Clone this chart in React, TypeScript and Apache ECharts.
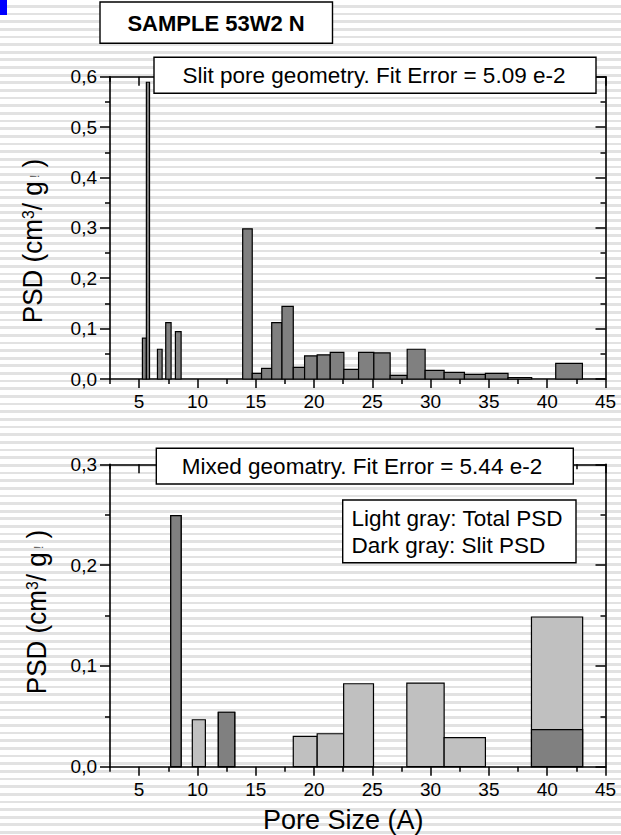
import React, { useEffect, useRef } from "react";
import * as echarts from "echarts";

// ---- Data ----
// Top chart: slit pore geometry PSD, bins [start, end] in Å and value (cm3/g)
const slitBinStart = [5.28, 5.62, 6.57, 7.28, 8.11, 13.88, 14.7, 15.5, 16.37, 17.25, 18.22, 19.19, 20.27, 21.39, 22.56, 23.82, 25.13, 26.53, 27.99, 29.53, 31.16, 32.9, 34.7, 36.64, 40.73];
const slitBinEnd = [5.62, 5.89, 6.97, 7.74, 8.6, 14.7, 15.5, 16.37, 17.25, 18.22, 19.19, 20.27, 21.39, 22.56, 23.82, 25.13, 26.53, 27.99, 29.53, 31.16, 32.9, 34.7, 36.64, 38.67, 43.02];
const slitValues = [0.081, 0.589, 0.059, 0.112, 0.094, 0.298, 0.011, 0.021, 0.112, 0.144, 0.023, 0.046, 0.048, 0.053, 0.019, 0.053, 0.052, 0.007, 0.059, 0.017, 0.013, 0.009, 0.011, 0.003, 0.031];

// Bottom chart: mixed geometry
const mixBinStart = [7.71, 9.56, 11.79, 18.22, 20.27, 22.54, 27.96, 31.16, 38.65];
const mixBinEnd = [8.6, 10.68, 13.2, 20.27, 22.54, 25.1, 31.16, 34.7, 43.04];
const mixTotal = [0.249, 0.0466, 0.054, 0.03, 0.0327, 0.0823, 0.083, 0.0288, 0.1485];
const mixSlit = [0.249, 0, 0.054, 0, 0, 0, 0, 0, 0.0367];

const xMajorTicks = [5, 10, 15, 20, 25, 30, 35, 40, 45];
const xMinorTicks = [2.5, 7.5, 12.5, 17.5, 22.5, 27.5, 32.5, 37.5, 42.5];

const FONT = 'Arial, "Liberation Sans", sans-serif';
const DARK = "#808080";
const LIGHT = "#c0c0c0";

function rectItem(fill: string) {
  return (params: any, api: any) => {
    const x0 = api.value(0);
    const x1 = api.value(1);
    const y = api.value(2);
    if (!(y > 0)) return null;
    const p0 = api.coord([x0, y]);
    const p1 = api.coord([x1, 0]);
    return {
      type: "rect",
      shape: { x: p0[0], y: p0[1], width: p1[0] - p0[0], height: p1[1] - p0[1] },
      style: { fill, stroke: "#000", lineWidth: 1.2 },
    };
  };
}

function xAxes(gridIndex: number) {
  const line = { lineStyle: { color: "#000", width: 1.6 } };
  return [
    {
      gridIndex, type: "value", position: "bottom", min: 2.5, max: 45,
      axisLine: { show: true, onZero: false, ...line },
      axisTick: { show: true, customValues: xMajorTicks, length: 9, inside: false, lineStyle: { color: "#000", width: 1.5 } },
      axisLabel: { show: true, customValues: xMajorTicks, color: "#000", fontSize: 19, fontFamily: FONT, margin: 13 },
      splitLine: { show: false },
    },
    {
      gridIndex, type: "value", position: "bottom", min: 2.5, max: 45,
      axisLine: { show: false, onZero: false },
      axisTick: { show: true, customValues: xMinorTicks, length: 5, inside: false, lineStyle: { color: "#000", width: 1.5 } },
      axisLabel: { show: false },
      splitLine: { show: false },
    },
    {
      gridIndex, type: "value", position: "top", min: 2.5, max: 45,
      axisLine: { show: true, onZero: false, ...line },
      axisTick: { show: true, customValues: xMajorTicks, length: 9, inside: true, lineStyle: { color: "#000", width: 1.5 } },
      axisLabel: { show: false },
      splitLine: { show: false },
    },
    {
      gridIndex, type: "value", position: "top", min: 2.5, max: 45,
      axisLine: { show: false, onZero: false },
      axisTick: { show: true, customValues: xMinorTicks, length: 5, inside: true, lineStyle: { color: "#000", width: 1.5 } },
      axisLabel: { show: false },
      splitLine: { show: false },
    },
  ];
}

function yAxes(gridIndex: number, max: number) {
  const common = {
    gridIndex, type: "value", min: 0, max, interval: 0.1,
    splitLine: { show: false },
    minorSplitLine: { show: false },
  };
  return [
    {
      ...common, position: "left",
      axisLine: { show: true, onZero: false, lineStyle: { color: "#000", width: 1.6 } },
      axisTick: { show: true, length: 10, inside: false, lineStyle: { color: "#000", width: 1.5 } },
      minorTick: { show: true, splitNumber: 2, length: 5, lineStyle: { color: "#000", width: 1.5 } },
      axisLabel: {
        show: true, color: "#000", fontSize: 19, fontFamily: FONT, margin: 13,
        formatter: (v: number) => v.toFixed(1).replace(".", ","),
      },
    },
    {
      ...common, position: "right",
      axisLine: { show: true, onZero: false, lineStyle: { color: "#000", width: 1.6 } },
      axisTick: { show: true, length: 10, inside: true, lineStyle: { color: "#000", width: 1.5 } },
      minorTick: { show: true, splitNumber: 2, length: 5, lineStyle: { color: "#000", width: 1.5 } },
      axisLabel: { show: false },
    },
  ];
}

function yName(x: number, y: number) {
  return {
    type: "text",
    x, y,
    rotation: Math.PI / 2,
    scaleX: 0.93,
    z: 100,
    style: {
      text: "{a|PSD (cm}{sup|3}{a|/ g}{ex| !}{a| )}",
      align: "center",
      verticalAlign: "middle",
      fill: "#000",
      rich: {
        a: { fontSize: 28, fontFamily: FONT, fill: "#000", verticalAlign: "bottom" },
        sup: { fontSize: 17, fontFamily: FONT, fill: "#000", verticalAlign: "bottom", padding: [0, 0, 11, 0] },
        ex: { fontSize: 13, fontFamily: FONT, fill: "#666", verticalAlign: "bottom", padding: [0, 0, 6, 0] },
      },
    },
  };
}

function box(x: number, y: number, w: number, h: number) {
  return {
    type: "rect", z: 90,
    shape: { x, y, width: w, height: h },
    style: { fill: "#fff", stroke: "#000", lineWidth: 1.4 },
  };
}

function label(text: string, x: number, y: number, size: number, bold = false, align = "center") {
  return {
    type: "text", x, y, z: 100,
    style: { text, fontSize: size, fontFamily: FONT, fontWeight: bold ? "bold" : "normal", fill: "#000", align, verticalAlign: "middle" },
  };
}

export default function App() {
  const ref = useRef<HTMLDivElement>(null);
  useEffect(() => {
    const chart = echarts.init(ref.current!, null, { renderer: "svg" });
    const slitData = slitBinStart.map((s, i) => [s, slitBinEnd[i], slitValues[i]]);
    const totalData = mixBinStart.map((s, i) => [s, mixBinEnd[i], mixTotal[i]]);
    const slitMixData = mixBinStart.map((s, i) => [s, mixBinEnd[i], mixSlit[i]]);
    const option: any = {
      animation: false,
      backgroundColor: "transparent",
      grid: [
        { left: 110, right: 15.5, top: 76.7, height: 302.3 },
        { left: 110, right: 15.5, top: 464.3, height: 302.4 },
      ],
      xAxis: [...xAxes(0), ...xAxes(1)],
      yAxis: [...yAxes(0, 0.6), ...yAxes(1, 0.3)],
      series: [
        {
          type: "custom", xAxisIndex: 0, yAxisIndex: 0,
          renderItem: rectItem(DARK), encode: { x: [0, 1], y: 2 }, data: slitData,
        },
        {
          type: "custom", xAxisIndex: 4, yAxisIndex: 2,
          renderItem: rectItem(LIGHT), encode: { x: [0, 1], y: 2 }, data: totalData,
        },
        {
          type: "custom", xAxisIndex: 4, yAxisIndex: 2,
          renderItem: rectItem(DARK), encode: { x: [0, 1], y: 2 }, data: slitMixData,
        },
      ],
      graphic: [
        { type: "rect", z: 100, shape: { x: 0, y: 0, width: 7, height: 15 }, style: { fill: "#0000ff" } },
        box(100, 2, 232.5, 41.3),
        label("SAMPLE 53W2 N", 216, 23, 22, true),
        box(154, 57.3, 442, 36),
        label("Slit pore geometry. Fit Error = 5.09 e-2", 374, 75.5, 22.5),
        box(156.3, 448.3, 417, 35.7),
        label("Mixed geomatry. Fit Error = 5.44 e-2", 362, 466.3, 22.5),
        box(342.7, 500, 233.3, 62.7),
        label("Light gray: Total PSD", 351.5, 518, 22.5, false, "left"),
        label("Dark gray: Slit PSD", 351.5, 545.5, 22.5, false, "left"),
        label("Pore Size (A)", 343.3, 820, 27),
        yName(33, 241),
        yName(37, 612),
      ],
    };
    chart.setOption(option);
    return () => chart.dispose();
  }, []);
  return (
    <div
      style={{
        position: "absolute", left: 0, top: 0, width: 621, height: 835,
        background: "repeating-linear-gradient(to bottom, #ffffff 0px, #ffffff 4.9px, #e2e2e2 4.9px, #e2e2e2 7.65px)",
      }}
    >
      <div ref={ref} style={{ width: 621, height: 835 }} />
    </div>
  );
}
